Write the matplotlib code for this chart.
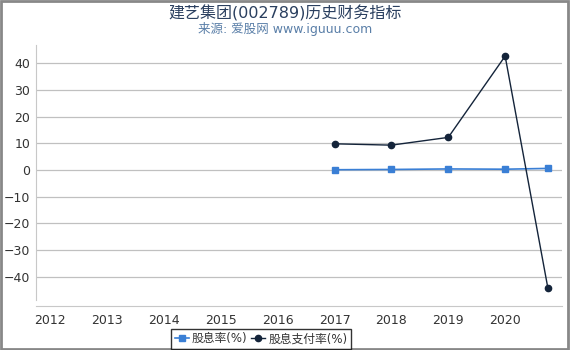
import matplotlib
matplotlib.use('Agg')
import matplotlib.pyplot as plt
from matplotlib.patches import Rectangle

plt.rcParams['font.family'] = ['DejaVu Sans', 'Noto Sans CJK SC']

# data
years = [2017, 2018, 2019, 2020, 2020.75]
dividend_yield = [0.1, 0.2, 0.4, 0.3, 0.6]
payout_ratio = [9.8, 9.3, 12.2, 42.6, -44.0]
xticks = [2012, 2013, 2014, 2015, 2016, 2017, 2018, 2019, 2020]
yticks = [-40, -30, -20, -10, 0, 10, 20, 30, 40]

fig = plt.figure(figsize=(5.7, 3.5), dpi=100)
fig.patch.set_facecolor('w')
ax = fig.add_axes([0.063, 0.143, 0.923, 0.728])

ax.plot(years, dividend_yield, '-', color='#3a7fd5', marker='s', markersize=4.5,
        linewidth=1.2, label='股息率(%)')
ax.plot(years, payout_ratio, '-', color='#14243a', marker='o', markersize=4.5,
        linewidth=1.0, label='股息支付率(%)')

ax.set_xlim(2011.75, 2021.0)
ax.set_ylim(-48.6, 46.7)
ax.set_xticks(xticks)
ax.set_xticklabels([str(x) for x in xticks])
ax.set_yticks(yticks)
ax.grid(axis='y', color='#c0c0c0', linewidth=0.9)
ax.set_axisbelow(True)

for s in ['top', 'right']:
    ax.spines[s].set_visible(False)
ax.spines['left'].set_color('#c8c8c8')
ax.spines['bottom'].set_color('#c8c8c8')
ax.spines['bottom'].set_position(('outward', 4))
ax.tick_params(axis='both', length=0, labelsize=9, colors='#333333', pad=6)
ax.tick_params(axis='y', pad=4)

fig.text(0.5, 0.963, '建艺集团(002789)历史财务指标', ha='center', va='center',
         fontsize=11.5, color='#2a3f5f')
fig.text(0.5, 0.918, '来源: 爱股网 www.iguuu.com', ha='center', va='center',
         fontsize=9, color='#5a7fa8')

leg = fig.legend(loc='lower center', bbox_to_anchor=(0.458, 0.0), ncol=2,
                 fontsize=8.5, frameon=True, fancybox=False, handlelength=1.2,
                 handletextpad=0.25, columnspacing=0.3, borderpad=0.3,
                 borderaxespad=0.1)
leg.get_frame().set_edgecolor('black')
leg.get_frame().set_linewidth(1.0)
for t in leg.get_texts():
    t.set_color('#333333')

fig.patches.append(Rectangle((0.002, 0.003), 0.995, 0.994, transform=fig.transFigure,
                             fill=False, edgecolor='#888888', linewidth=2))

fig.savefig('out.png', dpi=100)
